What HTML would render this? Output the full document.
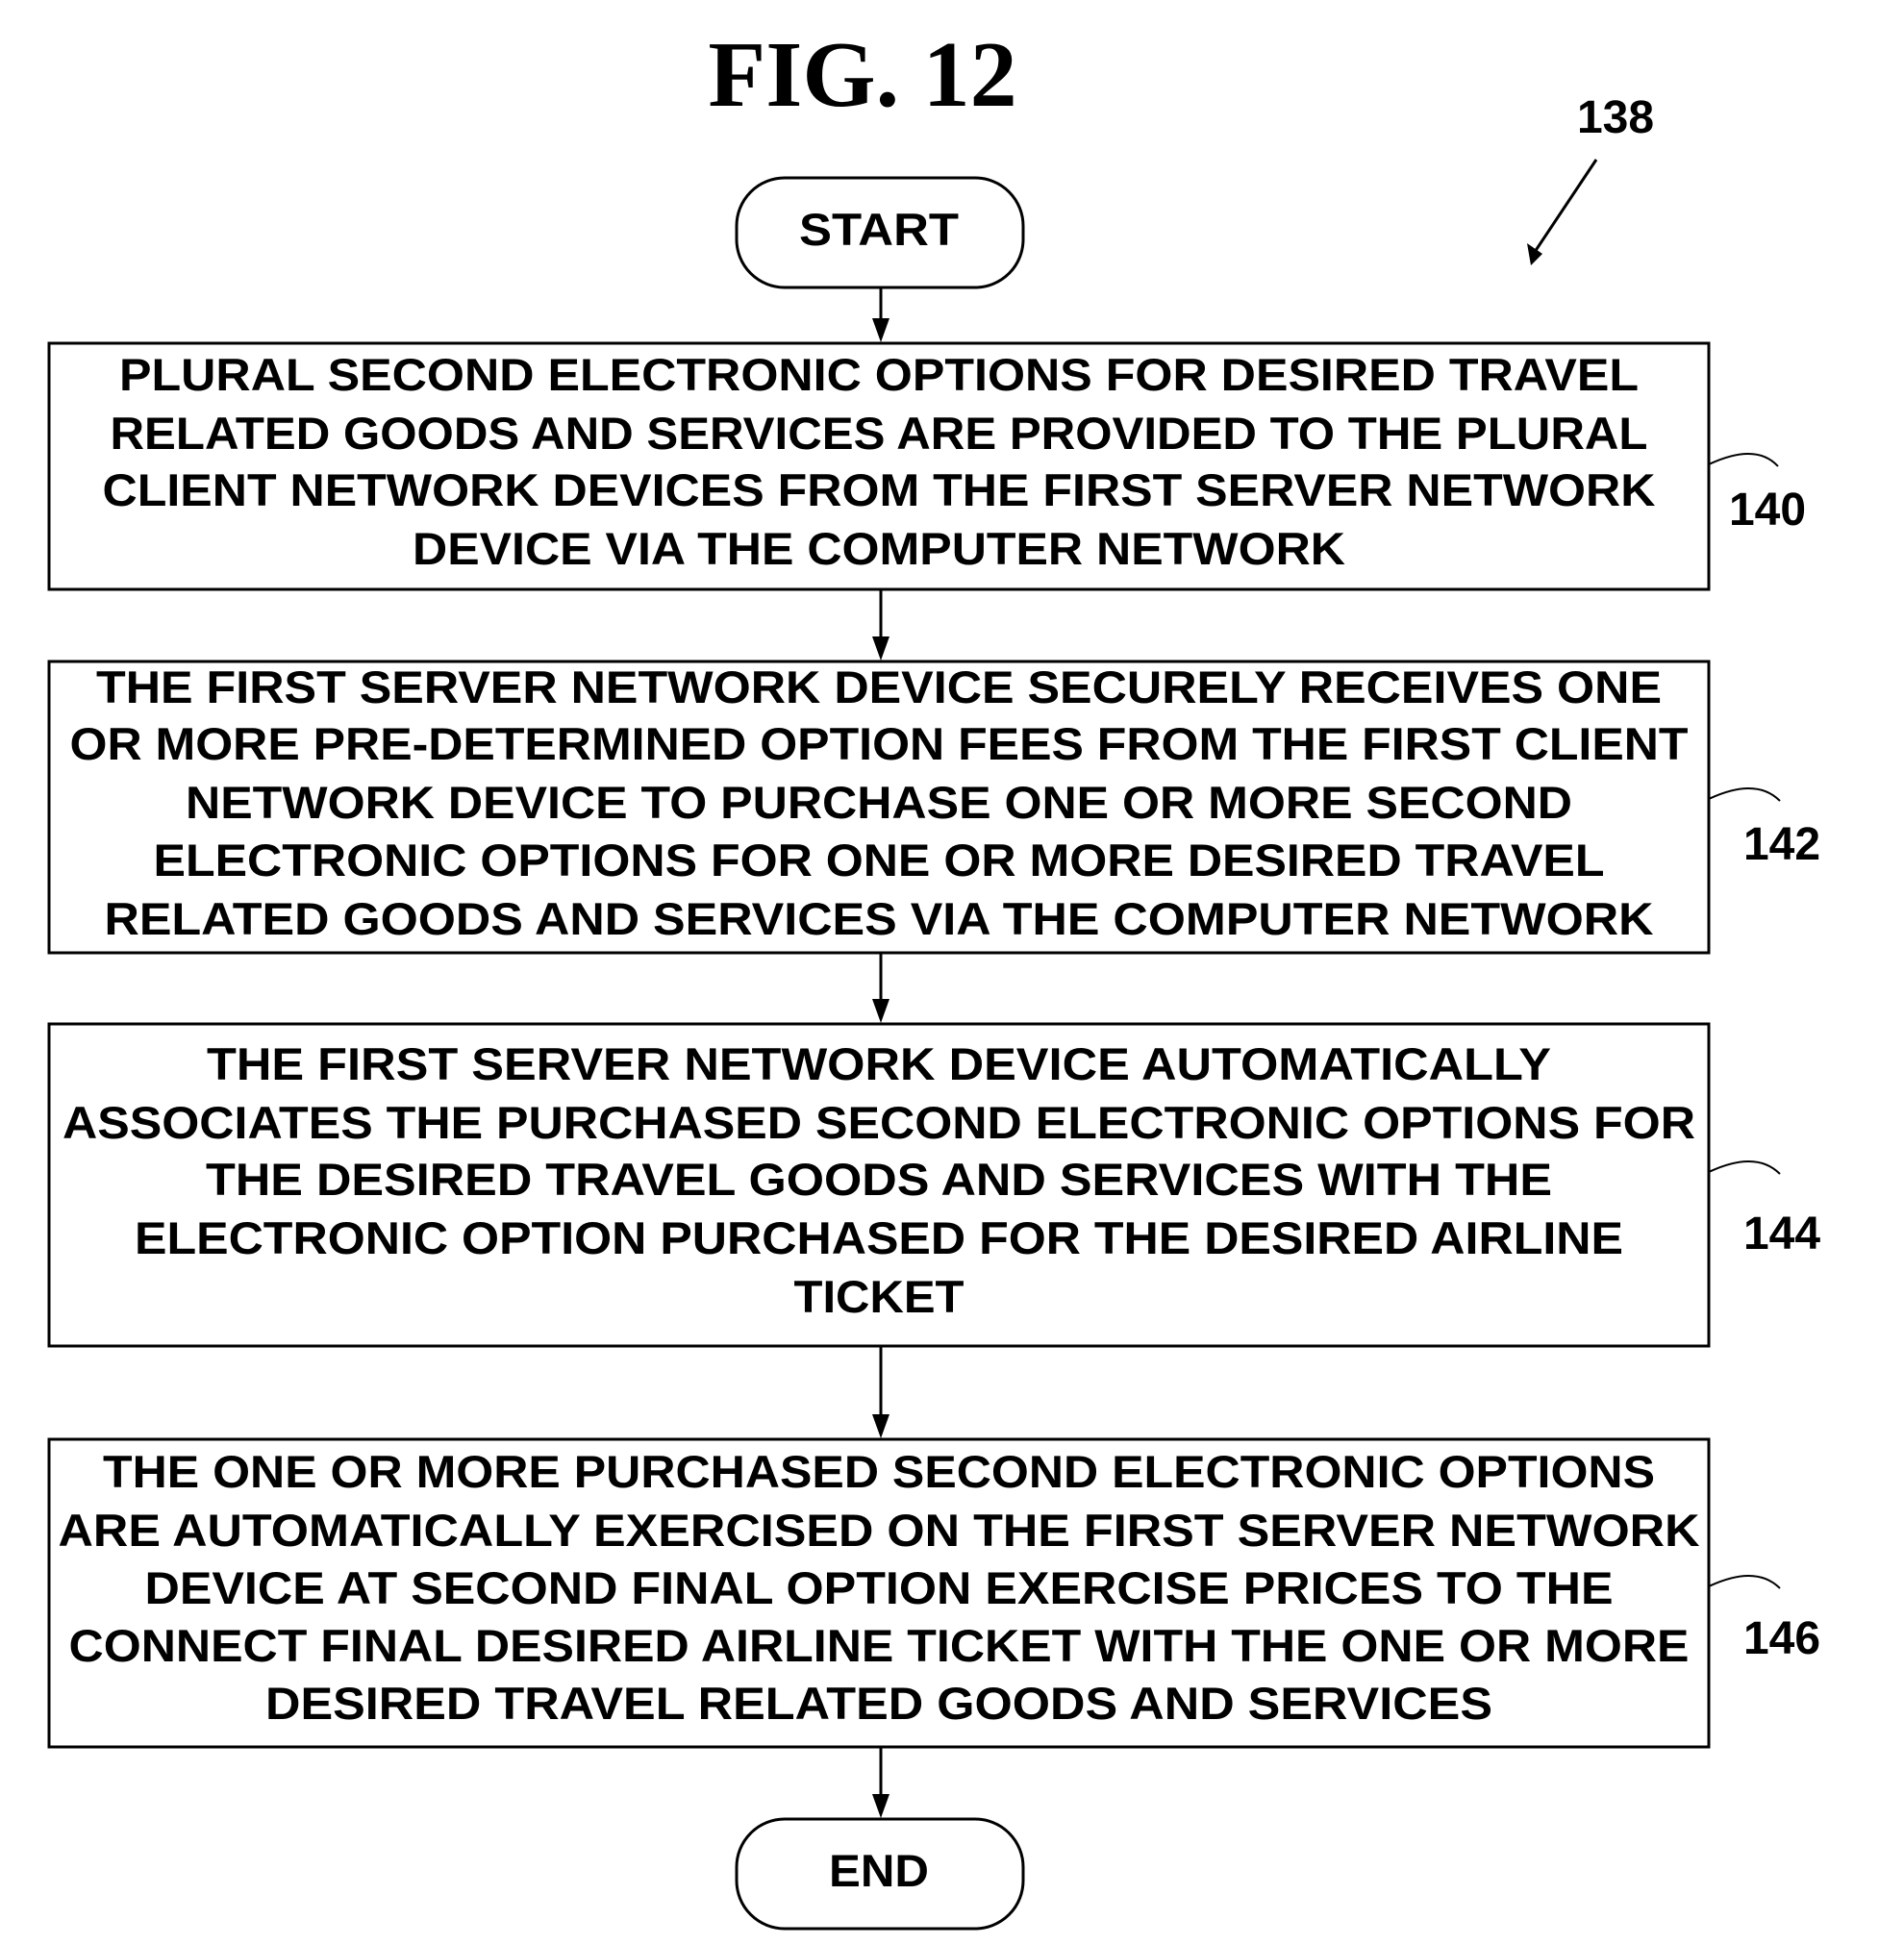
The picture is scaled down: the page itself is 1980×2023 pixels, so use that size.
<!DOCTYPE html>
<html><head><meta charset="utf-8"><style>html,body{margin:0;padding:0;background:#fff}svg{display:block}</style></head><body>
<svg width="1980" height="2023" viewBox="0 0 1980 2023" xmlns="http://www.w3.org/2000/svg">
<g font-family="'Liberation Serif',serif" font-weight="bold">
<text x="897" y="110" font-size="98" text-anchor="middle">FIG. 12</text>
</g>
<g font-family="'Liberation Sans',sans-serif" font-weight="bold" font-size="48" text-anchor="middle">
<text x="1680" y="138">138</text>
<text x="1838" y="546">140</text>
<text x="1853" y="894">142</text>
<text x="1853" y="1299">144</text>
<text x="1853" y="1720">146</text>
</g>
<g fill="none" stroke="#000" stroke-width="3">
<line x1="1660" y1="166" x2="1596" y2="262"/>
<rect x="766" y="185" width="298" height="114" rx="50"/>
<rect x="766" y="1892" width="298" height="114" rx="50"/>
<rect x="51" y="357" width="1726" height="256"/>
<rect x="51" y="688" width="1726" height="303"/>
<rect x="51" y="1065" width="1726" height="335"/>
<rect x="51" y="1497" width="1726" height="320"/>
<line x1="916" y1="299" x2="916" y2="335"/>
<line x1="916" y1="613" x2="916" y2="666"/>
<line x1="916" y1="991" x2="916" y2="1043"/>
<line x1="916" y1="1400" x2="916" y2="1475"/>
<line x1="916" y1="1817" x2="916" y2="1870"/>
<path d="M1777,483 Q1826,460 1849,485" stroke-width="2"/>
<path d="M1777,831 Q1826,808 1851,833" stroke-width="2"/>
<path d="M1777,1219 Q1826,1196 1851,1221" stroke-width="2"/>
<path d="M1777,1650 Q1826,1627 1851,1652" stroke-width="2"/>
</g>
<g fill="#000">
<path d="M1592,276 L1588,253 L1604,264 Z"/>
<path d="M907,331 L925,331 L916,356 Z"/>
<path d="M907,662 L925,662 L916,687 Z"/>
<path d="M907,1039 L925,1039 L916,1064 Z"/>
<path d="M907,1471 L925,1471 L916,1496 Z"/>
<path d="M907,1866 L925,1866 L916,1891 Z"/>
</g>
<g font-family="'Liberation Sans',sans-serif" font-weight="bold" font-size="47" text-anchor="middle">
<text x="914" y="255" textLength="166" lengthAdjust="spacingAndGlyphs">START</text>
<text x="914" y="1962" textLength="104" lengthAdjust="spacingAndGlyphs">END</text>
<text x="914" y="406" textLength="1580" lengthAdjust="spacingAndGlyphs">PLURAL SECOND ELECTRONIC OPTIONS FOR DESIRED TRAVEL</text>
<text x="914" y="467" textLength="1599" lengthAdjust="spacingAndGlyphs">RELATED GOODS AND SERVICES ARE PROVIDED TO THE PLURAL</text>
<text x="914" y="526" textLength="1615" lengthAdjust="spacingAndGlyphs">CLIENT NETWORK DEVICES FROM THE FIRST SERVER NETWORK</text>
<text x="914" y="587" textLength="970" lengthAdjust="spacingAndGlyphs">DEVICE VIA THE COMPUTER NETWORK</text>
<text x="914" y="731" textLength="1628" lengthAdjust="spacingAndGlyphs">THE FIRST SERVER NETWORK DEVICE SECURELY RECEIVES ONE</text>
<text x="914" y="790" textLength="1683" lengthAdjust="spacingAndGlyphs">OR MORE PRE-DETERMINED OPTION FEES FROM THE FIRST CLIENT</text>
<text x="914" y="851" textLength="1442" lengthAdjust="spacingAndGlyphs">NETWORK DEVICE TO PURCHASE ONE OR MORE SECOND</text>
<text x="914" y="911" textLength="1509" lengthAdjust="spacingAndGlyphs">ELECTRONIC OPTIONS FOR ONE OR MORE DESIRED TRAVEL</text>
<text x="914" y="972" textLength="1611" lengthAdjust="spacingAndGlyphs">RELATED GOODS AND SERVICES VIA THE COMPUTER NETWORK</text>
<text x="914" y="1123" textLength="1398" lengthAdjust="spacingAndGlyphs">THE FIRST SERVER NETWORK DEVICE AUTOMATICALLY</text>
<text x="914" y="1184" textLength="1698" lengthAdjust="spacingAndGlyphs">ASSOCIATES THE PURCHASED SECOND ELECTRONIC OPTIONS FOR</text>
<text x="914" y="1243" textLength="1400" lengthAdjust="spacingAndGlyphs">THE DESIRED TRAVEL GOODS AND SERVICES WITH THE</text>
<text x="914" y="1304" textLength="1548" lengthAdjust="spacingAndGlyphs">ELECTRONIC OPTION PURCHASED FOR THE DESIRED AIRLINE</text>
<text x="914" y="1365" textLength="177" lengthAdjust="spacingAndGlyphs">TICKET</text>
<text x="914" y="1547" textLength="1614" lengthAdjust="spacingAndGlyphs">THE ONE OR MORE PURCHASED SECOND ELECTRONIC OPTIONS</text>
<text x="914" y="1608" textLength="1707" lengthAdjust="spacingAndGlyphs">ARE AUTOMATICALLY EXERCISED ON THE FIRST SERVER NETWORK</text>
<text x="914" y="1668" textLength="1527" lengthAdjust="spacingAndGlyphs">DEVICE AT SECOND FINAL OPTION EXERCISE PRICES TO THE</text>
<text x="914" y="1728" textLength="1685" lengthAdjust="spacingAndGlyphs">CONNECT FINAL DESIRED AIRLINE TICKET WITH THE ONE OR MORE</text>
<text x="914" y="1788" textLength="1276" lengthAdjust="spacingAndGlyphs">DESIRED TRAVEL RELATED GOODS AND SERVICES</text>
</g>
</svg>
</body></html>
